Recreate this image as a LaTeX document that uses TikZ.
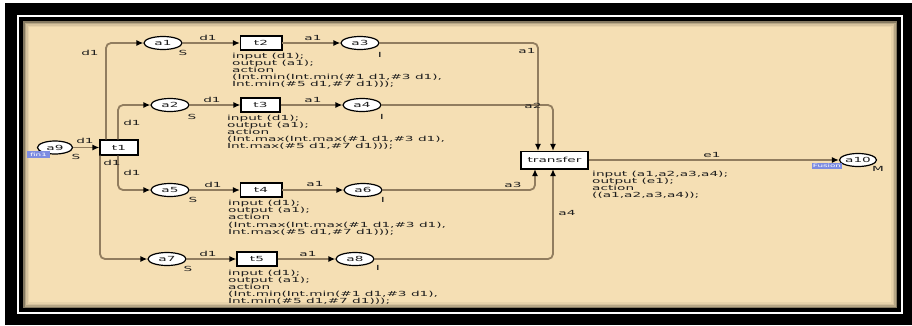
\documentclass[tikz,border=0pt]{standalone}
\usepackage{fontspec}
\setmainfont{DejaVu Sans}
\usepackage{graphicx}
\usetikzlibrary{shapes.geometric,arrows.meta}
\definecolor{beige}{RGB}{245,223,180}
\definecolor{arccol}{RGB}{145,125,95}
\definecolor{txtcol}{RGB}{30,30,30}
\definecolor{tagblue}{RGB}{125,140,225}
\newcommand\sx[1]{\scalebox{1.95}[1]{#1}}
\newcommand\insc[1]{\scalebox{1.95}[1]{\begin{tabular}{@{}l@{}}#1\end{tabular}}}
\tikzset{
  place/.style={ellipse, draw=black, line width=1.2pt, fill=white, minimum width=38pt, minimum height=13pt, inner sep=0pt, text=txtcol},
  trans/.style={rectangle, draw=black, line width=1.1pt, fill=white, minimum width=41pt, minimum height=14pt, inner sep=0pt, text=txtcol},
  arc/.style={draw=arccol, line width=1.8pt, rounded corners=5pt, -{Latex[length=7pt,width=6pt,color=black]}},
  lbl/.style={inner sep=0pt, text=txtcol},
  inscr/.style={inner sep=0pt, anchor=north west, text=txtcol},
  tag/.style={fill=tagblue, inner sep=0pt, text=white, font=\fontsize{4.5}{5}\selectfont}
}
\begin{document}
\begin{tikzpicture}[x=1pt,y=-1pt,font=\fontsize{7}{6.3}\selectfont]
\useasboundingbox (0,0) rectangle (912,325);
% frame
\fill[white] (0,0) rectangle (912,325);
\fill[black] (5,3) rectangle (912,325);
\draw[white, line width=2pt] (17.5,16) rectangle (902,313);
\fill[beige] (23,21) rectangle (897,308);
\draw[black, opacity=0.45, line width=1.5pt] (23.75,21.75) rectangle (896.25,307.25);
\draw[black, opacity=0.25, line width=1.5pt] (25.25,23.25) rectangle (894.75,305.75);
\draw[black, opacity=0.12, line width=1.5pt] (26.75,24.75) rectangle (893.25,304.25);
\draw[black, opacity=0.05, line width=1.5pt] (28.25,26.25) rectangle (891.75,302.75);

% places
\node[place, minimum width=35pt] (a9) at (55,147.5) {\sx{a9}};
\node[place] (a1) at (163,43) {\sx{a1}};
\node[place] (a2) at (170,105) {\sx{a2}};
\node[place] (a5) at (170,190) {\sx{a5}};
\node[place] (a7) at (167,259) {\sx{a7}};
\node[place] (a3) at (360,43) {\sx{a3}};
\node[place] (a4) at (362,105) {\sx{a4}};
\node[place] (a6) at (363,190) {\sx{a6}};
\node[place] (a8) at (355,259) {\sx{a8}};
\node[place, minimum width=37pt] (a10) at (858,160) {\sx{a10}};

% transitions
\node[trans, minimum width=38pt, minimum height=15pt] (t1) at (119,147.5) {\sx{t1}};
\node[trans] (t2) at (261,43) {\sx{t2}};
\node[trans, minimum width=39pt] (t3) at (260.5,105) {\sx{t3}};
\node[trans] (t4) at (261,190) {\sx{t4}};
\node[trans, minimum width=40pt] (t5) at (257,259) {\sx{t5}};
\node[trans, minimum width=67pt, minimum height=17pt] (tr) at (554.5,160) {\sx{transfer}};
\foreach \t in {t1,t2,t3,t4,t5,tr}
  \draw[black, line width=1.8pt, line cap=square] (\t.north east) -- (\t.south east) -- (\t.south west);

% tags
\node[tag, minimum width=23pt, minimum height=7pt] (g9) at (38.5,154.5) {\sx{fin1}};
\node[tag, minimum width=30pt, minimum height=6pt] (g10) at (827,166) {\sx{Fusion}};

% arcs
\draw[arc] (a9) -- (t1);
\draw[arc] ([xshift=-13pt]t1.north) |- (a1.west);
\draw[arc] ([xshift=-1pt]t1.north) |- (a2.west);
\draw[arc] ([xshift=-1pt]t1.south) |- (a5.west);
\draw[arc] ([xshift=-19pt]t1.south) |- (a7.west);
\draw[arc] (a1) -- (t2);
\draw[arc] (a2) -- (t3);
\draw[arc] (a5) -- (t4);
\draw[arc] (a7) -- (t5);
\draw[arc] (t2) -- (a3);
\draw[arc] (t3) -- (a4);
\draw[arc] (t4) -- (a6);
\draw[arc] (t5) -- (a8);
\draw[arc] (a3.east) -| ([xshift=-16.5pt]tr.north);
\draw[arc] (a4.east) -| ([xshift=-1.5pt]tr.north);
\draw[arc] (a6.east) -| ([xshift=-19.5pt]tr.south);
\draw[arc] (a8.east) -| ([xshift=-1.5pt]tr.south);
\draw[arc] (tr) -- (a10);

% arc labels
\node[lbl] (l1) at (85,141) {\sx{d1}};
\node[lbl] (l2) at (90,53) {\sx{d1}};
\node[lbl] (l3) at (132,123) {\sx{d1}};
\node[lbl] (l4) at (112,163) {\sx{d1}};
\node[lbl] (l5) at (132,173) {\sx{d1}};
\node[lbl] (l6) at (208,38) {\sx{d1}};
\node[lbl] (l7) at (212,100) {\sx{d1}};
\node[lbl] (l8) at (213,185) {\sx{d1}};
\node[lbl] (l9) at (208,254) {\sx{d1}};
\node[lbl] (l10) at (313,38) {\sx{a1}};
\node[lbl] (l11) at (313,100) {\sx{a1}};
\node[lbl] (l12) at (315,184) {\sx{a1}};
\node[lbl] (l13) at (308,254) {\sx{a1}};
\node[lbl] (l14) at (527,51) {\sx{a1}};
\node[lbl] (l15) at (533,106) {\sx{a2}};
\node[lbl] (l16) at (513,185) {\sx{a3}};
\node[lbl] (l17) at (567,213) {\sx{a4}};
\node[lbl] (l18) at (712,155) {\sx{e1}};

% color set labels
\node[lbl] (s9) at (76,157) {\sx{S}};
\node[lbl] (s1) at (183,53) {\sx{S}};
\node[lbl] (s2) at (192,117) {\sx{S}};
\node[lbl] (s5) at (193,200) {\sx{S}};
\node[lbl] (s7) at (188,269) {\sx{S}};
\node[lbl] (s3) at (380,55) {\sx{I}};
\node[lbl] (s4) at (382,117) {\sx{I}};
\node[lbl] (s6) at (383,200) {\sx{I}};
\node[lbl] (s8) at (378,268) {\sx{I}};
\node[lbl] (s10) at (878,169) {\sx{M}};

% inscriptions
\node[inscr] (i2) at (232,52.5) {\insc{input (d1);\\ output (a1);\\ action\\ (Int.min(Int.min(\#1 d1,\#3 d1),\\ Int.min(\#5 d1,\#7 d1)));}};
\node[inscr] (i3) at (227,114.5) {\insc{input (d1);\\ output (a1);\\ action\\ (Int.max(Int.max(\#1 d1,\#3 d1),\\ Int.max(\#5 d1,\#7 d1)));}};
\node[inscr] (i4) at (228,200) {\insc{input (d1);\\ output (a1);\\ action\\ (Int.max(Int.max(\#1 d1,\#3 d1),\\ Int.max(\#5 d1,\#7 d1)));}};
\node[inscr] (i5) at (228,269.5) {\insc{input (d1);\\ output (a1);\\ action\\ (Int.min(Int.min(\#1 d1,\#3 d1),\\ Int.min(\#5 d1,\#7 d1)));}};
\node[inscr] (itr) at (592,170.5) {\insc{input (a1,a2,a3,a4);\\ output (e1);\\ action\\ ((a1,a2,a3,a4));}};
\end{tikzpicture}
\end{document}
